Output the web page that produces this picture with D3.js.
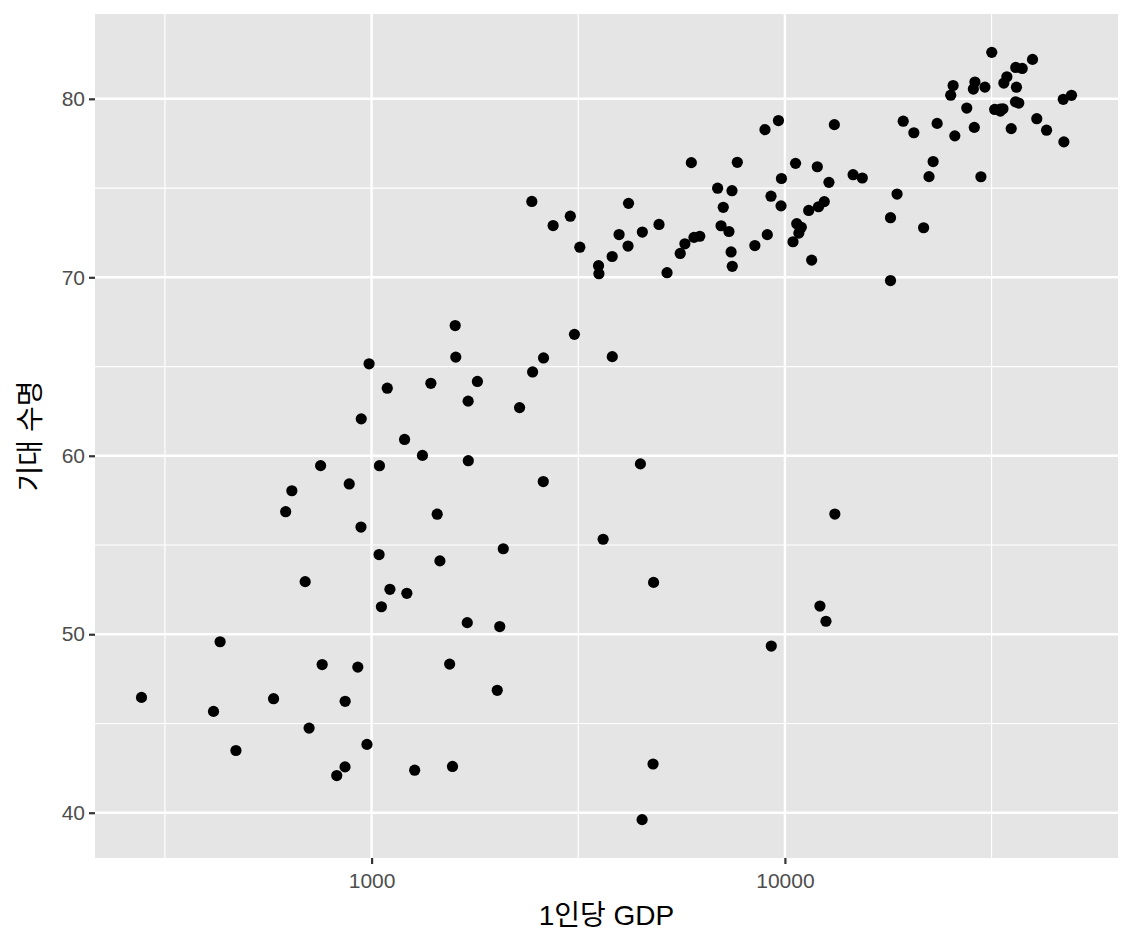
<!DOCTYPE html>
<meta charset="utf-8">
<style>
body { margin: 0; background: #fff; }
text { font-family: "Liberation Sans", Arial, "Noto Sans CJK KR", sans-serif; }
.title { font-family: "Liberation Sans", "Noto Sans CJK KR", sans-serif; }
</style>
<body>
<script src="https://d3js.org/d3.v7.min.js"></script>
<script>
// gapminder 2007: country, gdp per capita, life expectancy
var countries = ["Afghanistan","Albania","Algeria","Angola","Argentina","Australia","Austria","Bahrain","Bangladesh","Belgium",
  "Benin","Bolivia","Bosnia and Herzegovina","Botswana","Brazil","Bulgaria","Burkina Faso","Burundi","Cambodia","Cameroon",
  "Canada","Central African Republic","Chad","Chile","China","Colombia","Comoros","Congo, Dem. Rep.","Congo, Rep.","Costa Rica",
  "Cote d'Ivoire","Croatia","Cuba","Czech Republic","Denmark","Djibouti","Dominican Republic","Ecuador","Egypt","El Salvador",
  "Equatorial Guinea","Eritrea","Ethiopia","Finland","France","Gabon","Gambia","Germany","Ghana","Greece",
  "Guatemala","Guinea","Guinea-Bissau","Haiti","Honduras","Hong Kong","Hungary","Iceland","India","Indonesia",
  "Iran","Iraq","Ireland","Israel","Italy","Jamaica","Japan","Jordan","Kenya","Korea, Dem. Rep.",
  "Korea, Rep.","Kuwait","Lebanon","Lesotho","Liberia","Libya","Madagascar","Malawi","Malaysia","Mali",
  "Mauritania","Mauritius","Mexico","Mongolia","Montenegro","Morocco","Mozambique","Myanmar","Namibia","Nepal",
  "Netherlands","New Zealand","Nicaragua","Niger","Nigeria","Norway","Oman","Pakistan","Panama","Paraguay",
  "Peru","Philippines","Poland","Portugal","Puerto Rico","Reunion","Romania","Rwanda","Sao Tome and Principe","Saudi Arabia",
  "Senegal","Serbia","Sierra Leone","Singapore","Slovak Republic","Slovenia","Somalia","South Africa","Spain","Sri Lanka",
  "Sudan","Swaziland","Sweden","Switzerland","Syria","Taiwan","Tanzania","Thailand","Togo","Trinidad and Tobago",
  "Tunisia","Turkey","Uganda","United Kingdom","United States","Uruguay","Venezuela","Vietnam","West Bank and Gaza","Yemen, Rep.",
  "Zambia","Zimbabwe"];

var gdpPercap = [974.58,5937.03,6223.37,4797.23,12779.38,34435.37,36126.49,29796.05,1391.25,33692.61,
  1441.28,3822.14,7446.30,12569.85,9065.80,10680.79,1217.03,430.07,1713.78,2042.10,
  36319.24,706.02,1704.06,13171.64,4959.11,7006.58,986.15,277.55,3632.56,9645.06,
  1544.75,14619.22,8948.10,22833.31,35278.42,2082.48,6025.37,6873.26,5581.18,5728.35,
  12154.09,641.37,690.81,33207.08,30470.02,13206.48,752.75,32170.37,1327.61,27538.41,
  5186.05,942.65,579.23,1201.64,3548.33,39724.98,18008.94,36180.79,2452.21,3540.65,
  11605.71,4471.06,40676.00,25523.28,28569.72,7320.88,31656.07,4519.46,1463.25,1593.07,
  23348.14,47306.99,10461.06,1569.33,414.51,12057.50,1044.77,759.35,12451.66,1042.58,
  1803.15,10956.99,11977.57,3095.77,9253.90,3820.18,823.69,944.00,4811.06,1091.36,
  36797.93,25185.01,2749.32,619.68,2013.98,49357.19,22316.19,2605.95,9809.19,4172.84,
  7408.91,3190.48,15389.92,20509.65,19328.71,7670.12,10808.48,863.09,1598.44,21654.83,
  1712.47,9786.53,862.54,47143.18,18678.31,25768.26,926.14,9269.66,28821.06,3970.10,
  2602.39,4513.48,33859.75,37506.42,4184.55,28718.28,1107.48,7458.40,882.97,18008.51,
  7092.92,8458.28,1056.38,33203.26,42951.65,10611.46,11415.81,2441.58,3025.35,2280.77,
  1271.21,469.71];

var lifeExp = [43.828,76.423,72.301,42.731,75.320,81.235,79.829,75.635,64.062,79.441,
  56.728,65.554,74.852,50.728,72.390,73.005,52.295,49.580,59.723,50.430,
  80.653,44.741,50.651,78.553,72.961,72.889,65.152,46.462,55.322,78.782,
  48.328,75.748,78.273,76.486,78.332,54.791,72.235,74.994,71.338,71.878,
  51.579,58.040,52.947,79.313,80.657,56.735,59.448,79.406,60.022,79.483,
  70.259,56.007,46.388,60.916,70.198,82.208,73.338,81.757,64.698,70.650,
  70.964,59.545,78.885,80.745,80.546,72.567,82.603,72.535,54.110,67.297,
  78.623,77.588,71.993,42.592,45.678,73.952,59.443,48.303,74.241,54.467,
  64.164,72.801,76.195,66.803,74.543,71.164,42.082,62.069,52.906,63.785,
  79.762,80.204,72.899,56.867,46.859,80.196,75.640,65.483,75.537,71.752,
  71.421,71.688,75.563,78.098,78.746,76.442,72.476,46.242,65.528,72.777,
  63.062,74.002,42.568,79.972,74.663,77.926,48.159,49.339,80.941,72.396,
  58.556,39.613,80.884,81.701,74.143,78.400,52.517,70.616,58.420,69.819,
  73.923,71.777,51.542,79.425,78.242,76.384,73.747,74.249,73.422,62.698,
  42.384,43.487];

var xBreaks = [1000, 10000],
    xMinor = [316.2278, 3162.278, 31622.78],
    yBreaks = [40, 50, 60, 70, 80],
    yMinor = [45, 55, 65, 75];

var xTitle = "1인당 GDP",
    yTitle = "기대 수명";

var width = 1133, height = 944,
    margin = {top: 14, right: 15, bottom: 86, left: 95};
var pw = width - margin.left - margin.right,
    ph = height - margin.top - margin.bottom;

var svg = d3.select("body").append("svg")
    .attr("width", width)
    .attr("height", height);

// ggplot style: 5% expansion on each side
var lx = d3.extent(gdpPercap).map(Math.log10),
    ex = (lx[1] - lx[0]) * 0.05;
var x = d3.scaleLog()
    .domain([Math.pow(10, lx[0] - ex), Math.pow(10, lx[1] + ex)])
    .range([0, pw]);

var ly = d3.extent(lifeExp),
    ey = (ly[1] - ly[0]) * 0.05;
var y = d3.scaleLinear()
    .domain([ly[0] - ey, ly[1] + ey])
    .range([ph, 0]);

var g = svg.append("g")
    .attr("transform", "translate(" + margin.left + "," + margin.top + ")");

g.append("rect")
    .attr("width", pw)
    .attr("height", ph)
    .attr("fill", "#E5E5E5");

// minor grid
g.selectAll(".xminor").data(xMinor).enter().append("line")
    .attr("x1", d => x(d)).attr("x2", d => x(d))
    .attr("y1", 0).attr("y2", ph)
    .attr("stroke", "#fff").attr("stroke-width", 1.2);
g.selectAll(".yminor").data(yMinor).enter().append("line")
    .attr("y1", d => y(d)).attr("y2", d => y(d))
    .attr("x1", 0).attr("x2", pw)
    .attr("stroke", "#fff").attr("stroke-width", 1.2);

// major grid
g.selectAll(".xmajor").data(xBreaks).enter().append("line")
    .attr("x1", d => x(d)).attr("x2", d => x(d))
    .attr("y1", 0).attr("y2", ph)
    .attr("stroke", "#fff").attr("stroke-width", 2.4);
g.selectAll(".ymajor").data(yBreaks).enter().append("line")
    .attr("y1", d => y(d)).attr("y2", d => y(d))
    .attr("x1", 0).attr("x2", pw)
    .attr("stroke", "#fff").attr("stroke-width", 2.4);

// points
g.selectAll("circle").data(d3.range(countries.length)).enter().append("circle")
    .attr("cx", i => x(gdpPercap[i]))
    .attr("cy", i => y(lifeExp[i]))
    .attr("r", 5.6)
    .attr("fill", "#000");

// axes
var xAxis = g.append("g")
    .attr("transform", "translate(0," + ph + ")")
    .call(d3.axisBottom(x).tickValues(xBreaks).tickFormat(d3.format("d")).tickSize(6).tickPadding(4));
var yAxis = g.append("g")
    .call(d3.axisLeft(y).tickValues(yBreaks).tickSize(6).tickPadding(4));

[xAxis, yAxis].forEach(function(a) {
  a.select(".domain").remove();
  a.selectAll(".tick line").attr("stroke", "#333").attr("stroke-width", 2.2);
  a.selectAll(".tick text")
    .attr("fill", "#4D4D4D")
    .style("font-size", "21px")
    .style("font-family", "'Liberation Sans', Arial, sans-serif");
});
xAxis.selectAll(".tick text").attr("dy", "0.95em");

// titles
svg.append("text")
    .attr("class", "title")
    .attr("x", margin.left + pw / 2)
    .attr("y", 925)
    .attr("text-anchor", "middle")
    .attr("fill", "#000")
    .style("font-size", "28px")
    .text(xTitle);

svg.append("text")
    .attr("class", "title")
    .attr("transform", "translate(40," + (margin.top + ph / 2) + ") rotate(-90)")
    .attr("text-anchor", "middle")
    .attr("fill", "#000")
    .style("font-size", "28px")
    .text(yTitle);
</script>
</body>
